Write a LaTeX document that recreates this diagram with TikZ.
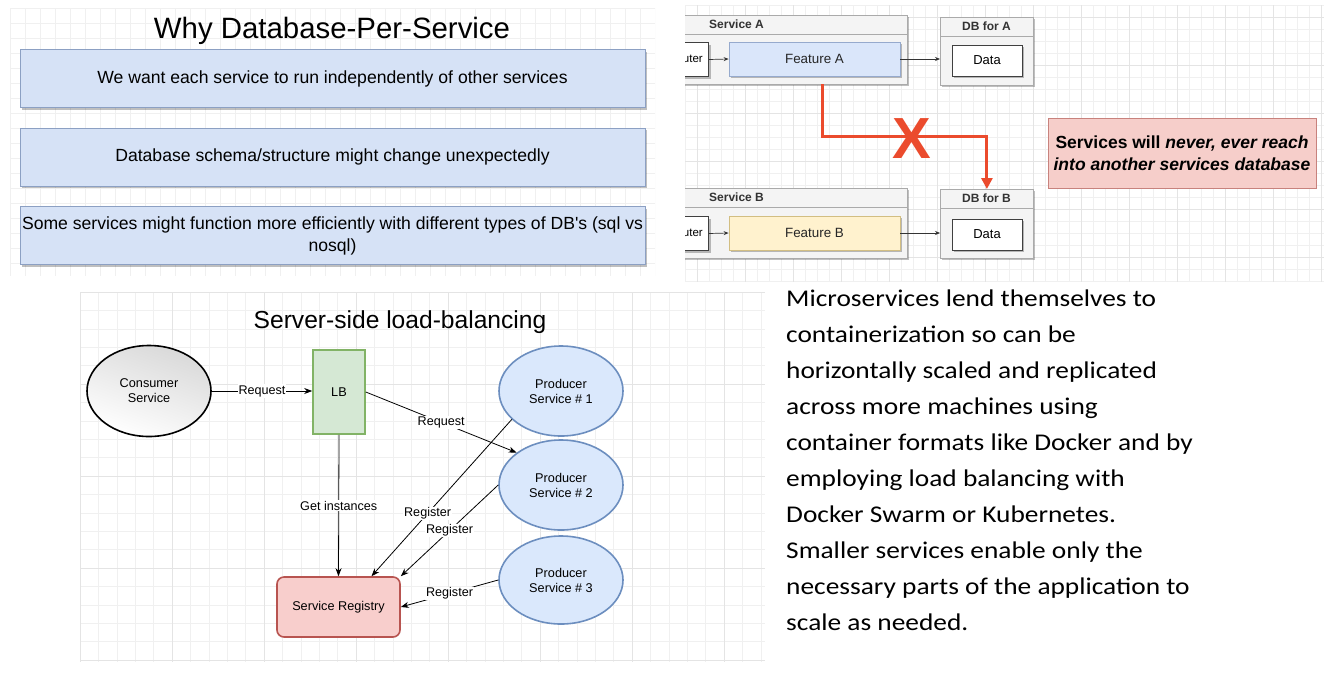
\documentclass[tikz,border=0pt]{standalone}
\usepackage{fontspec}
\setmainfont{Liberation Sans}
\newfontfamily\plainsans{Liberation Sans}
\newfontfamily\carl[FakeStretch=1.14]{Carlito}
\usetikzlibrary{shadows,arrows.meta,shapes.geometric,calc}
\definecolor{whyfill}{RGB}{214,226,246}
\definecolor{whyborder}{RGB}{140,160,195}
\definecolor{contfill}{RGB}{244,244,244}
\definecolor{contdraw}{RGB}{170,170,170}
\definecolor{featAfill}{RGB}{218,230,250}
\definecolor{featAdraw}{RGB}{150,170,205}
\definecolor{featBfill}{RGB}{255,242,206}
\definecolor{featBdraw}{RGB}{210,190,130}
\definecolor{redc}{RGB}{235,75,45}
\definecolor{notefill}{RGB}{246,206,202}
\definecolor{notedraw}{RGB}{200,130,125}
\definecolor{lbfill}{RGB}{213,232,212}
\definecolor{lbdraw}{RGB}{130,179,102}
\definecolor{pfill}{RGB}{218,232,252}
\definecolor{pdraw}{RGB}{108,142,191}
\definecolor{rfill}{RGB}{248,206,204}
\definecolor{rdraw}{RGB}{184,84,80}
\definecolor{gridl}{RGB}{240,240,240}
\definecolor{gridm}{RGB}{228,228,228}
\begin{document}
\begin{tikzpicture}[x=1pt,y=-1pt,
  shd/.style={drop shadow={shadow xshift=2pt,shadow yshift=-2pt,fill=black,opacity=.25}},
  whybox/.style={draw=whyborder,fill=whyfill,line width=1pt,minimum width=625pt,minimum height=58pt,shd,align=center,inner sep=1pt,font=\fontsize{17.6}{22}\selectfont},
  cont/.style={draw=contdraw,fill=contfill,line width=.8pt,shd,inner sep=0pt},
  hdrtxt/.style={font=\bfseries\fontsize{12}{14}\selectfont,text=black!80,inner sep=0pt},
  feat/.style={line width=.8pt,shd,minimum width=171pt,minimum height=34pt,font=\fontsize{13.4}{15}\selectfont,text=black!85},
  datab/.style={draw=black!75,fill=white,line width=1pt,shd,minimum width=70pt,minimum height=31pt,font=\fontsize{13}{15}\selectfont},
  sarr/.style={-{Stealth[length=5pt,width=4pt]},line width=.7pt,black!80},
  redline/.style={draw=redc,line width=3pt,-{Triangle[length=11pt,width=11pt]}},
  note/.style={draw=notedraw,fill=notefill,line width=.8pt,minimum width=268pt,minimum height=70pt,align=center,font=\bfseries\fontsize{17.5}{21.5}\selectfont},
  prod/.style={ellipse,draw=pdraw,fill=pfill,line width=1.6pt,minimum width=124pt,minimum height=90pt,align=center,font=\fontsize{12.7}{15}\selectfont,inner sep=0pt},
  larr/.style={-{Stealth[length=8pt,width=6pt]},line width=.8pt,black},
  lbl/.style={fill=white,inner sep=1pt,font=\fontsize{12.6}{14}\selectfont}
]
\useasboundingbox (0,0) rectangle (1324,673);
\fill[white] (0,0) rectangle (1324,673);
% ---------- panel 1 ----------
\begin{scope}
\clip (10,8) rectangle (655,276);
\foreach \x in {10,25,...,655} \draw[gridl,line width=.5pt] (\x,8) -- (\x,276);
\foreach \y in {8,23,...,276} \draw[gridl,line width=.5pt] (10,\y) -- (655,\y);
\end{scope}
\node[font=\fontsize{29.4}{32}\selectfont,inner sep=0pt] (t1) at (332,31) {Why Database-Per-Service};
\node[whybox] (w1) at (332.5,78.5) {\raisebox{-1.5pt}{We want each service to run independently of other services}};
\node[whybox] (w2) at (332.5,157) {\raisebox{-1.5pt}{Database schema/structure might change unexpectedly}};
\node[whybox] (w3) at (332.5,235.5) {Some services might function more efficiently with different types of DB{\plainsans'}s (sql vs\\nosql)};
% ---------- panel 2 ----------
\begin{scope}
\clip (685,5) rectangle (1324,282);
\foreach \x in {685,697,...,1324} \draw[gridl,line width=.5pt] (\x,5) -- (\x,282);
\foreach \y in {5,17,...,282} \draw[gridl,line width=.5pt] (685,\y) -- (1324,\y);
\foreach \x in {697,745,...,1324} \draw[gridm,line width=.6pt] (\x,5) -- (\x,282);
\foreach \y in {17,65,...,282} \draw[gridm,line width=.6pt] (685,\y) -- (1324,\y);
% Service A
\node[cont,anchor=north west,minimum width=240pt,minimum height=19pt] (sAh) at (667,15) {};
\node[cont,anchor=north west,minimum width=240pt,minimum height=50pt] (sA) at (667,34) {};
\node[draw=black!75,fill=white,line width=1pt,shd,anchor=north west,minimum width=50pt,minimum height=34pt] (rA) at (658,42) {};
\node[anchor=east,font=\fontsize{11.5}{13}\selectfont,inner sep=0pt] (rAt) at (703,59) {uter};
% Service B
\node[cont,anchor=north west,minimum width=240pt,minimum height=19pt] (sBh) at (667,188) {};
\node[cont,anchor=north west,minimum width=240pt,minimum height=51pt] (sB) at (667,207) {};
\node[draw=black!75,fill=white,line width=1pt,shd,anchor=north west,minimum width=50pt,minimum height=34pt] (rB) at (658,216) {};
\node[anchor=east,font=\fontsize{11.5}{13}\selectfont,inner sep=0pt] (rBt) at (703,233) {uter};
\end{scope}
\node[hdrtxt,anchor=west] (sAt) at (709,24.5) {Service A};
\node[hdrtxt,anchor=west] (sBt) at (709,197.5) {Service B};
\node[feat,draw=featAdraw,fill=featAfill] (fA) at (814.5,59) {Feature A};
\node[feat,draw=featBdraw,fill=featBfill] (fB) at (814.5,233) {Feature B};
\draw[sarr] (rA.east) -- (fA.west);
\draw[sarr] (rB.east) -- (fB.west);
% DB for A
\node[cont,anchor=north west,minimum width=93pt,minimum height=19pt] (dbAh) at (940,17) {};
\node[hdrtxt] (dbAt) at (986.5,26.5) {DB for A};
\node[cont,anchor=north west,minimum width=93pt,minimum height=49pt] (dbA) at (940,36) {};
\node[datab] (dA) at (987,60.5) {Data};
% DB for B
\node[cont,anchor=north west,minimum width=93pt,minimum height=19pt] (dbBh) at (940,189) {};
\node[hdrtxt] (dbBt) at (986.5,198.5) {DB for B};
\node[cont,anchor=north west,minimum width=93pt,minimum height=50pt] (dbB) at (940,208) {};
\node[datab] (dB) at (987,234.5) {Data};
\draw[sarr] (fA.east) -- (fA.east -| dbA.west);
\draw[sarr] (fB.east) -- (fB.east -| dbB.west);
% red forbidden path
\coordinate (rs) at (822,84);
\coordinate (rm) at (822,136);
\draw[redline] (rs) -- (rm) -| (dbBh.north);
\node[text=redc,font=\bfseries\fontsize{58}{60}\selectfont,inner sep=0pt] (xx) at (912,139) {X};
\node[note] (nt) at (1182,153) {Services will \textit{never, ever reach}\\\textit{into another services database}};
% ---------- panel 3 ----------
\begin{scope}
\clip (80,292) rectangle (765,662);
\foreach \x in {80,98.4,...,765} \draw[gridl,line width=.5pt] (\x,292) -- (\x,662);
\foreach \y in {292,310.4,...,662} \draw[gridl,line width=.5pt] (80,\y) -- (765,\y);
\foreach \x in {80,172,...,765} \draw[gridm,line width=.8pt] (\x,292) -- (\x,662);
\foreach \y in {292,384,...,662} \draw[gridm,line width=.8pt] (80,\y) -- (765,\y);
\end{scope}
\node[font=\fontsize{24.6}{27}\selectfont,inner sep=0pt] (t3) at (400,322) {Server-side load-balancing};
\node[ellipse,draw=black,line width=1.6pt,top color=gray!30,bottom color=white,shading angle=-20,minimum width=124pt,minimum height=91pt,align=center,font=\fontsize{12.7}{15}\selectfont] (cons) at (149,391) {Consumer\\Service};
\node[draw=lbdraw,fill=lbfill,line width=1.6pt,minimum width=52pt,minimum height=84pt,font=\fontsize{12.7}{15}\selectfont] (lb) at (339,392) {LB};
\node[prod] (p1) at (561,391) {Producer\\Service \# 1};
\node[prod] (p2) at (561,485) {Producer\\Service \# 2};
\node[prod,minimum height=88pt] (p3) at (561,580) {Producer\\Service \# 3};
\node[draw=rdraw,fill=rfill,line width=1.6pt,rounded corners=7pt,minimum width=123pt,minimum height=60pt,font=\fontsize{12.7}{15}\selectfont] (reg) at (338.5,607) {Service Registry};
\draw[larr] (cons.east) -- (cons.east -| lb.west) node[lbl,midway] {Request};
\draw[larr] (lb.east) -- (p2.north west) node[lbl,pos=0.5] {Request};
\draw[larr] (lb.south) -- (reg.north) node[lbl,midway] {Get instances};
\draw[larr] (p1.210) -- ($(reg.north)+(33,0)$) node[lbl,pos=0.6] {Register};
\draw[larr] (p2.west) -- (reg.north east) node[lbl,pos=0.5] {Register};
\draw[larr] (p3.west) -- (reg.east) node[lbl,pos=0.5] {Register};
% ---------- panel 4 ----------
\node[anchor=north west,align=left,inner sep=0pt,font=\carl\fontsize{24}{36}\selectfont] (txt) at (786,290) {Microservices lend themselves to\\containerization so can be\\horizontally scaled and replicated\\across more machines using\\container formats like Docker and by\\employing load balancing with\\Docker Swarm or Kubernetes.\\Smaller services enable only the\\necessary parts of the application to\\scale as needed.};
\end{tikzpicture}
\end{document}
